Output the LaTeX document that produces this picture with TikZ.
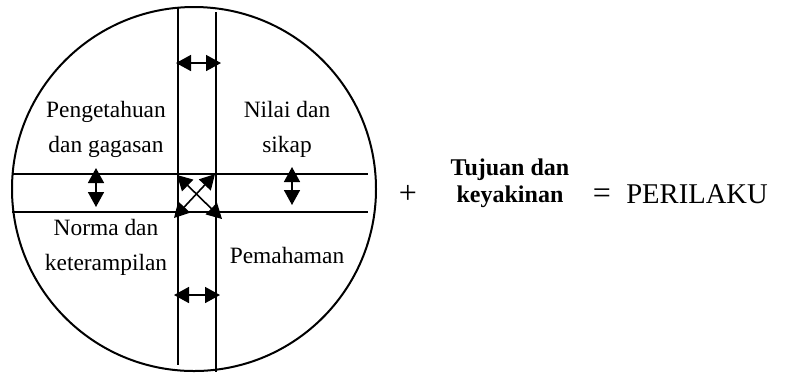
\documentclass[tikz,border=0pt]{standalone}
\usepackage{fontspec}
\setmainfont{Liberation Serif}
\usetikzlibrary{arrows.meta}

\begin{document}
\begin{tikzpicture}[x=0.5pt, y=-0.5pt,
  band/.style={line width=1pt},
  twoway/.style={line width=0.8pt,
    {Triangle[length=7.5pt,width=8pt]}-{Triangle[length=7.5pt,width=8pt]}},
  lbl/.style={align=center, inner sep=0pt,
    font=\fontsize{11.7}{17.5}\selectfont},
]
\useasboundingbox (0,0) rectangle (787,372);

% circle and the two crossing bands
\node[draw, circle, line width=1pt, minimum size=182pt, inner sep=0pt] (whole) at (194,189) {};
\draw[band] (178,8) -- (178,365);
\draw[band] (216,12) -- (216,372);
\draw[band] (12,174) -- (368,174);
\draw[band] (12,212) -- (368,212);

% two-way arrows
\coordinate (topL) at (176,63);   \coordinate (topR) at (221,63);
\coordinate (botL) at (174,295);  \coordinate (botR) at (220,295);
\coordinate (lftT) at (96,168);   \coordinate (lftB) at (96,207);
\coordinate (rgtT) at (292,167);  \coordinate (rgtB) at (292,205);
\draw[twoway] (topL) -- (topR);
\draw[twoway] (botL) -- (botR);
\draw[twoway] (lftT) -- (lftB);
\draw[twoway] (rgtT) -- (rgtB);
\draw[twoway] (177,175) -- (222,219);
\draw[twoway] (215,174) -- (174,218);

% quadrant labels
\node[lbl] (know) at (106,129) {Pengetahuan\\dan gagasan};
\node[lbl] (value) at (287,129) {Nilai dan\\sikap};
\node[lbl] (norm) at (106,247) {Norma dan\\keterampilan};
\node[lbl] (under) at (287,255) {Pemahaman};

% equation
\node[font=\fontsize{16}{18}\selectfont] (plus) at (408,194) {+};
\node[lbl, font=\fontsize{12}{13.5}\bfseries\selectfont] (goal) at (510,183) {Tujuan dan\\keyakinan};
\node[font=\fontsize{16}{18}\selectfont] (equal) at (602,196) {=};
\node[font=\fontsize{14.3}{16}\selectfont] (result) at (697,194) {PERILAKU};
\end{tikzpicture}
\end{document}
